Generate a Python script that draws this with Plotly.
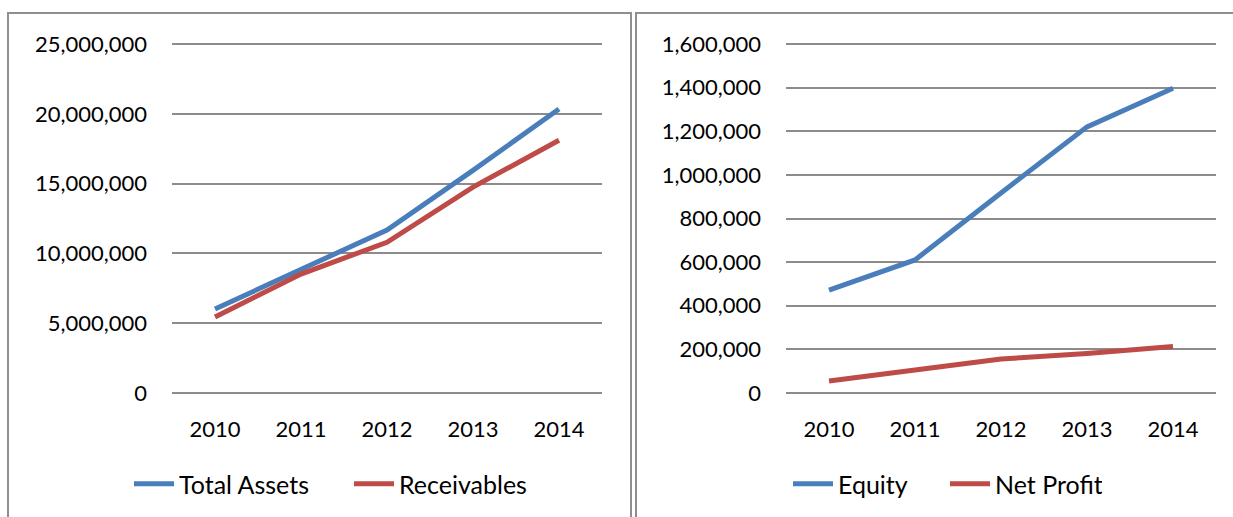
import plotly.graph_objects as go

years = ["2010", "2011", "2012", "2013", "2014"]
total_assets = [6020000, 8880000, 11680000, 15950000, 20340000]
receivables = [5440000, 8520000, 10800000, 14750000, 18100000]
equity = [472000, 610000, 917000, 1220000, 1397000]
net_profit = [55000, 105000, 156000, 181000, 213000]

left_ticks = [0, 5000000, 10000000, 15000000, 20000000, 25000000]
right_ticks = [0, 200000, 400000, 600000, 800000, 1000000, 1200000, 1400000, 1600000]

W, H = 1233, 517
BLUE = "#4A7EBB"
RED = "#BE4B48"
GRID = "#8C8C8C"
TICKFONT = dict(family="Lato", size=22, color="#000000")
LEGFONT = dict(family="Lato", size=25, color="#000000")

def px(x):
    return x / W

def py(y):
    return 1 - y / H

PAD = 3.0            # px of padding so the edge gridlines are drawn
EPS = PAD / 349.0    # same padding as a fraction of the value range

fig = go.Figure()
fig.add_trace(go.Scatter(x=years, y=total_assets, name="Total Assets", mode="lines",
                         line=dict(color=BLUE, width=5), xaxis="x", yaxis="y", legend="legend"))
fig.add_trace(go.Scatter(x=years, y=receivables, name="Receivables", mode="lines",
                         line=dict(color=RED, width=5), xaxis="x", yaxis="y", legend="legend"))
fig.add_trace(go.Scatter(x=years, y=equity, name="Equity", mode="lines",
                         line=dict(color=BLUE, width=5), xaxis="x2", yaxis="y2", legend="legend2"))
fig.add_trace(go.Scatter(x=years, y=net_profit, name="Net Profit", mode="lines",
                         line=dict(color=RED, width=5), xaxis="x2", yaxis="y2", legend="legend2"))

xcommon = dict(type="category", range=[-0.5, 4.5], showgrid=False, showline=False,
               zeroline=False, ticks="", tickfont=TICKFONT, ticklabelstandoff=18,
               fixedrange=True, automargin=False)
ycommon = dict(showgrid=True, gridcolor=GRID, gridwidth=2, zeroline=False, showline=False,
               ticks="", tickfont=TICKFONT, tickformat=",d", ticklabelstandoff=24,
               fixedrange=True, automargin=False)

lmax = 25000000
rmax = 1600000

fig.update_layout(
    width=W, height=H,
    margin=dict(l=0, r=0, t=0, b=0, autoexpand=False),
    paper_bgcolor="white", plot_bgcolor="white",
    font=TICKFONT,
    xaxis=dict(xcommon, domain=[px(172), px(602)], anchor="y"),
    yaxis=dict(ycommon, domain=[py(393 + PAD), py(44 - PAD)], anchor="x",
               range=[-lmax * EPS, lmax * (1 + EPS)], tickvals=left_ticks),
    xaxis2=dict(xcommon, domain=[px(786), px(1216)], anchor="y2"),
    yaxis2=dict(ycommon, domain=[py(393 + PAD), py(44 - PAD)], anchor="x2",
                range=[-rmax * EPS, rmax * (1 + EPS)], tickvals=right_ticks),
    legend=dict(orientation="h", x=px(129), xanchor="left", y=py(484), yanchor="middle",
                font=LEGFONT, bgcolor="rgba(0,0,0,0)", itemwidth=40, tracegroupgap=0,
                entrywidth=165),
    legend2=dict(orientation="h", x=px(788), xanchor="left", y=py(484), yanchor="middle",
                 font=LEGFONT, bgcolor="rgba(0,0,0,0)", itemwidth=40, tracegroupgap=0,
                 entrywidth=102),
    showlegend=True,
    shapes=[
        dict(type="rect", xref="paper", yref="paper", x0=px(8), x1=px(631), y0=-0.05, y1=py(13),
             line=dict(color="#8F8F8F", width=2), fillcolor="rgba(0,0,0,0)", layer="below"),
        dict(type="rect", xref="paper", yref="paper", x0=px(636), x1=1.05, y0=-0.05, y1=py(13),
             line=dict(color="#8F8F8F", width=2), fillcolor="rgba(0,0,0,0)", layer="below"),
    ],
)

fig.write_html("out.html")
